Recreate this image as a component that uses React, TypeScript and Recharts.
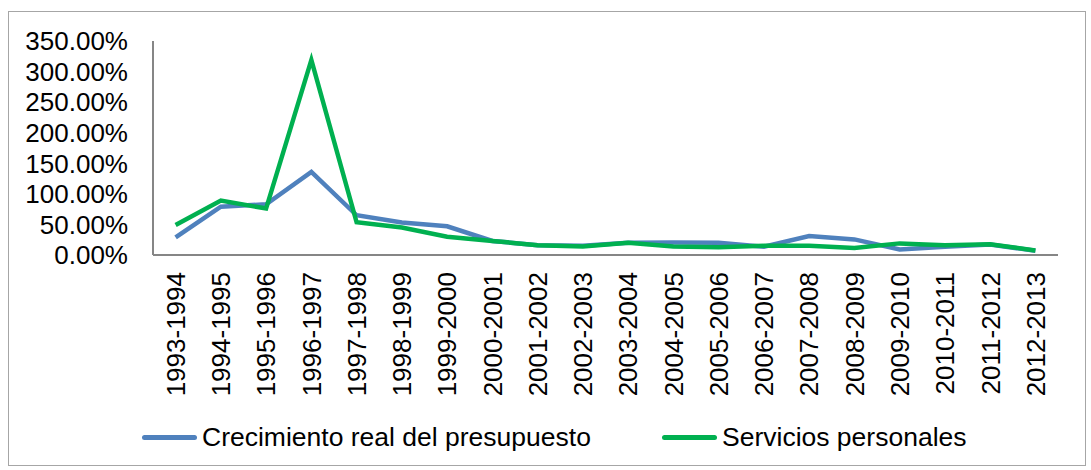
import React from 'react';
import { LineChart, Line, XAxis, YAxis, Legend } from 'recharts';

const periods = [
  '1993-1994', '1994-1995', '1995-1996', '1996-1997', '1997-1998',
  '1998-1999', '1999-2000', '2000-2001', '2001-2002', '2002-2003',
  '2003-2004', '2004-2005', '2005-2006', '2006-2007', '2007-2008',
  '2008-2009', '2009-2010', '2010-2011', '2011-2012', '2012-2013',
];

// values in percent
const crecimientoReal = [29, 79, 83, 136, 65, 53, 47, 23, 16, 15, 20, 20.5, 20, 13.5, 31, 25.5, 9, 13.5, 17, 7];
const serviciosPersonales = [49, 89, 76, 319, 53.5, 45, 30, 23, 16, 14, 20, 14, 12.5, 15, 15, 11.5, 19, 16, 17.5, 7.5];

const yTicks = [0, 50, 100, 150, 200, 250, 300, 350];

const series = [
  { key: 'crecimiento', name: 'Crecimiento real del presupuesto', color: '#4f81bd' },
  { key: 'servicios', name: 'Servicios personales', color: '#00b050' },
];

const data = periods.map((p, i) => ({
  period: p,
  crecimiento: crecimientoReal[i],
  servicios: serviciosPersonales[i],
}));

const FONT = '"Liberation Sans", Arial, sans-serif';

const PeriodTick = (props: any) => {
  const { x, y, payload } = props;
  const ty = y + 17;
  return (
    <text
      x={x}
      y={ty}
      dy="0.36em"
      transform={`rotate(-90, ${x}, ${ty})`}
      textAnchor="end"
      fill="#000"
      fontSize={26}
      fontFamily={FONT}
    >
      {payload.value}
    </text>
  );
};

const legendSlots = [142, 662];

const renderLegend = () => (
  <div style={{ position: 'relative', width: 1091, height: 40, fontFamily: FONT }}>
    {series.map((s, i) => (
      <div key={s.key} style={{ position: 'absolute', left: legendSlots[i], top: 0, height: 40 }}>
        <div
          style={{
            position: 'absolute', left: 0, top: 17, width: 55, height: 5,
            background: s.color, borderRadius: 2.5,
          }}
        />
        <div
          style={{
            position: 'absolute', left: 60, top: 4, fontSize: 26.5, lineHeight: '30px',
            whiteSpace: 'nowrap', color: '#000',
          }}
        >
          {s.name}
        </div>
      </div>
    ))}
  </div>
);

export default function App() {
  return (
    <div style={{ position: 'absolute', left: 0, top: 0, width: 1091, height: 470, background: '#fff' }}>
      <div
        style={{
          position: 'absolute', left: 8, top: 11, width: 1078, height: 455,
          border: '1px solid #a6a6a6', boxSizing: 'border-box',
        }}
      />
      <div style={{ position: 'absolute', left: 0, top: 0 }}>
        <LineChart
          width={1091}
          height={470}
          data={data}
          margin={{ top: 41, right: 33, left: 28, bottom: 0 }}
        >
          <XAxis
            dataKey="period"
            interval={0}
            tickLine={false}
            tickSize={0}
            tickMargin={0}
            padding={{ left: 22.6, right: 22.6 }}
            stroke="#868686"
            strokeWidth={2}
            tick={<PeriodTick />}
            height={215}
          />
          <YAxis
            domain={[0, 350]}
            ticks={yTicks}
            width={125}
            tickLine={false}
            tickSize={0}
            tickMargin={25}
            stroke="#868686"
            strokeWidth={2}
            interval={0}
            tickFormatter={(v: number) => `${v.toFixed(2)}%`}
            tick={{ fill: '#000', fontSize: 26, fontFamily: FONT }}
          />
          <Legend
            layout="horizontal"
            verticalAlign="middle"
            align="center"
            content={renderLegend}
            wrapperStyle={{ left: 0, top: 418, width: 1091, height: 40 }}
          />
          {series.map((s) => (
            <Line
              key={s.key}
              type="linear"
              dataKey={s.key}
              name={s.name}
              stroke={s.color}
              strokeWidth={4.5}
              dot={false}
              activeDot={false}
              isAnimationActive={false}
            />
          ))}
        </LineChart>
      </div>
    </div>
  );
}
